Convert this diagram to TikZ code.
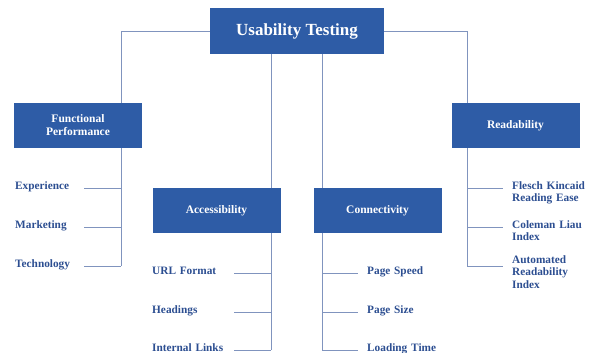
\documentclass[tikz,border=0pt]{standalone}
\usepackage{fontspec}
\setmainfont{Liberation Serif}
\usepackage{tikz}
\usetikzlibrary{positioning,calc}
\definecolor{boxblue}{RGB}{46,92,166}
\definecolor{leafblue}{RGB}{44,78,145}
\definecolor{wire}{RGB}{128,148,190}
\newlength{\bw}
\setlength{\bw}{128pt}
\newlength{\bh}
\setlength{\bh}{45pt}
\tikzset{
  topic/.style ={fill=boxblue,text=white,font=\fontsize{11.5}{13}\selectfont\bfseries,
                 minimum width=\bw,minimum height=\bh,align=center,inner sep=2pt},
  rootbox/.style={topic,minimum width=174pt,minimum height=46pt,
                 font=\fontsize{17}{20}\selectfont\bfseries},
  leaf/.style  ={text=leafblue,font=\fontsize{11.3}{12.6}\selectfont\bfseries,
                 inner sep=0pt,align=left,text width=#1,anchor=mid west},
  line/.style  ={draw=wire,line width=0.9pt}
}

\begin{document}
\begin{tikzpicture}[x=1pt,y=-1pt]
\useasboundingbox (0,0) rectangle (590,353);


\node[rootbox] (root) at (297,31)      {Usability Testing};
\node[topic]   (func) at (78,125.5)    {Functional\\Performance};
\node[topic]   (read) at (515.5,125.5) {Readability};
\node[topic]   (acc)  at (216.5,210.5) {Accessibility};
\node[topic]   (conn) at (377.5,210.5) {Connectivity};

% lower ends of the vertical buses
\coordinate (funcbus) at (121,266);
\coordinate (accbus)  at (271,350);
\coordinate (connbus) at (322,350);
\coordinate (readbus) at (467,266);


\node[leaf=69pt] (exper)  at (15,187) {Experience};
\node[leaf=69pt] (market) at (15,226) {Marketing};
\node[leaf=69pt] (tech)   at (15,265) {Technology};

\node[leaf=82pt] (url)    at (152,272) {URL Format};
\node[leaf=82pt] (heads)  at (152,311) {Headings};
\node[leaf=82pt] (links)  at (152,349) {Internal Links};

\node[leaf=85pt] (speed)  at (367,272) {Page Speed};
\node[leaf=85pt] (size)   at (367,311) {Page Size};
\node[leaf=85pt] (load)   at (367,349) {Loading Time};

\node[leaf=85pt] (flesch) at (512,187) {Flesch Kincaid\\Reading Ease};
\node[leaf=85pt] (cole)   at (512,226) {Coleman Liau\\Index};
\node[leaf=85pt] (auto)   at (512,261) {Automated\\Readability\\Index};


\draw[line] (root.west) -| (func.north -| funcbus);
\draw[line] (root.east) -| (read.north -| readbus);
\draw[line] (root.south -| accbus)  -- (acc.north -| accbus);
\draw[line] (root.south -| connbus) -- (conn.north -| connbus);

\draw[line] (func.south -| funcbus) -- (funcbus);
\draw[line] (acc.south -| accbus)   -- (accbus);
\draw[line] (conn.south -| connbus) -- (connbus);
\draw[line] (read.south -| readbus) -- (readbus);


\draw[line] ([yshift=-1pt]exper.mid east)  -- ([yshift=-1pt]exper.mid east -| funcbus);
\draw[line] ([yshift=-1pt]market.mid east) -- ([yshift=-1pt]market.mid east -| funcbus);
\draw[line] ([yshift=-1pt]tech.mid east)   -- ([yshift=-1pt]tech.mid east -| funcbus);

\draw[line] ([yshift=-1pt]url.mid east)   -- ([yshift=-1pt]url.mid east -| accbus);
\draw[line] ([yshift=-1pt]heads.mid east) -- ([yshift=-1pt]heads.mid east -| accbus);
\draw[line] ([yshift=-1pt]links.mid east) -- ([yshift=-1pt]links.mid east -| accbus);

\draw[line] ([yshift=-1pt]speed.mid west -| connbus) -- ([xshift=-9pt,yshift=-1pt]speed.mid west);
\draw[line] ([yshift=-1pt]size.mid west -| connbus)  -- ([xshift=-9pt,yshift=-1pt]size.mid west);
\draw[line] ([yshift=-1pt]load.mid west -| connbus)  -- ([xshift=-9pt,yshift=-1pt]load.mid west);

\draw[line] ([yshift=-1pt]flesch.mid west -| readbus) -- ([xshift=-9pt,yshift=-1pt]flesch.mid west);
\draw[line] ([yshift=-1pt]cole.mid west -| readbus)   -- ([xshift=-9pt,yshift=-1pt]cole.mid west);
\draw[line] ([yshift=-5pt]auto.mid west -| readbus)   -- ([xshift=-9pt,yshift=-5pt]auto.mid west);

\end{tikzpicture}
\end{document}
